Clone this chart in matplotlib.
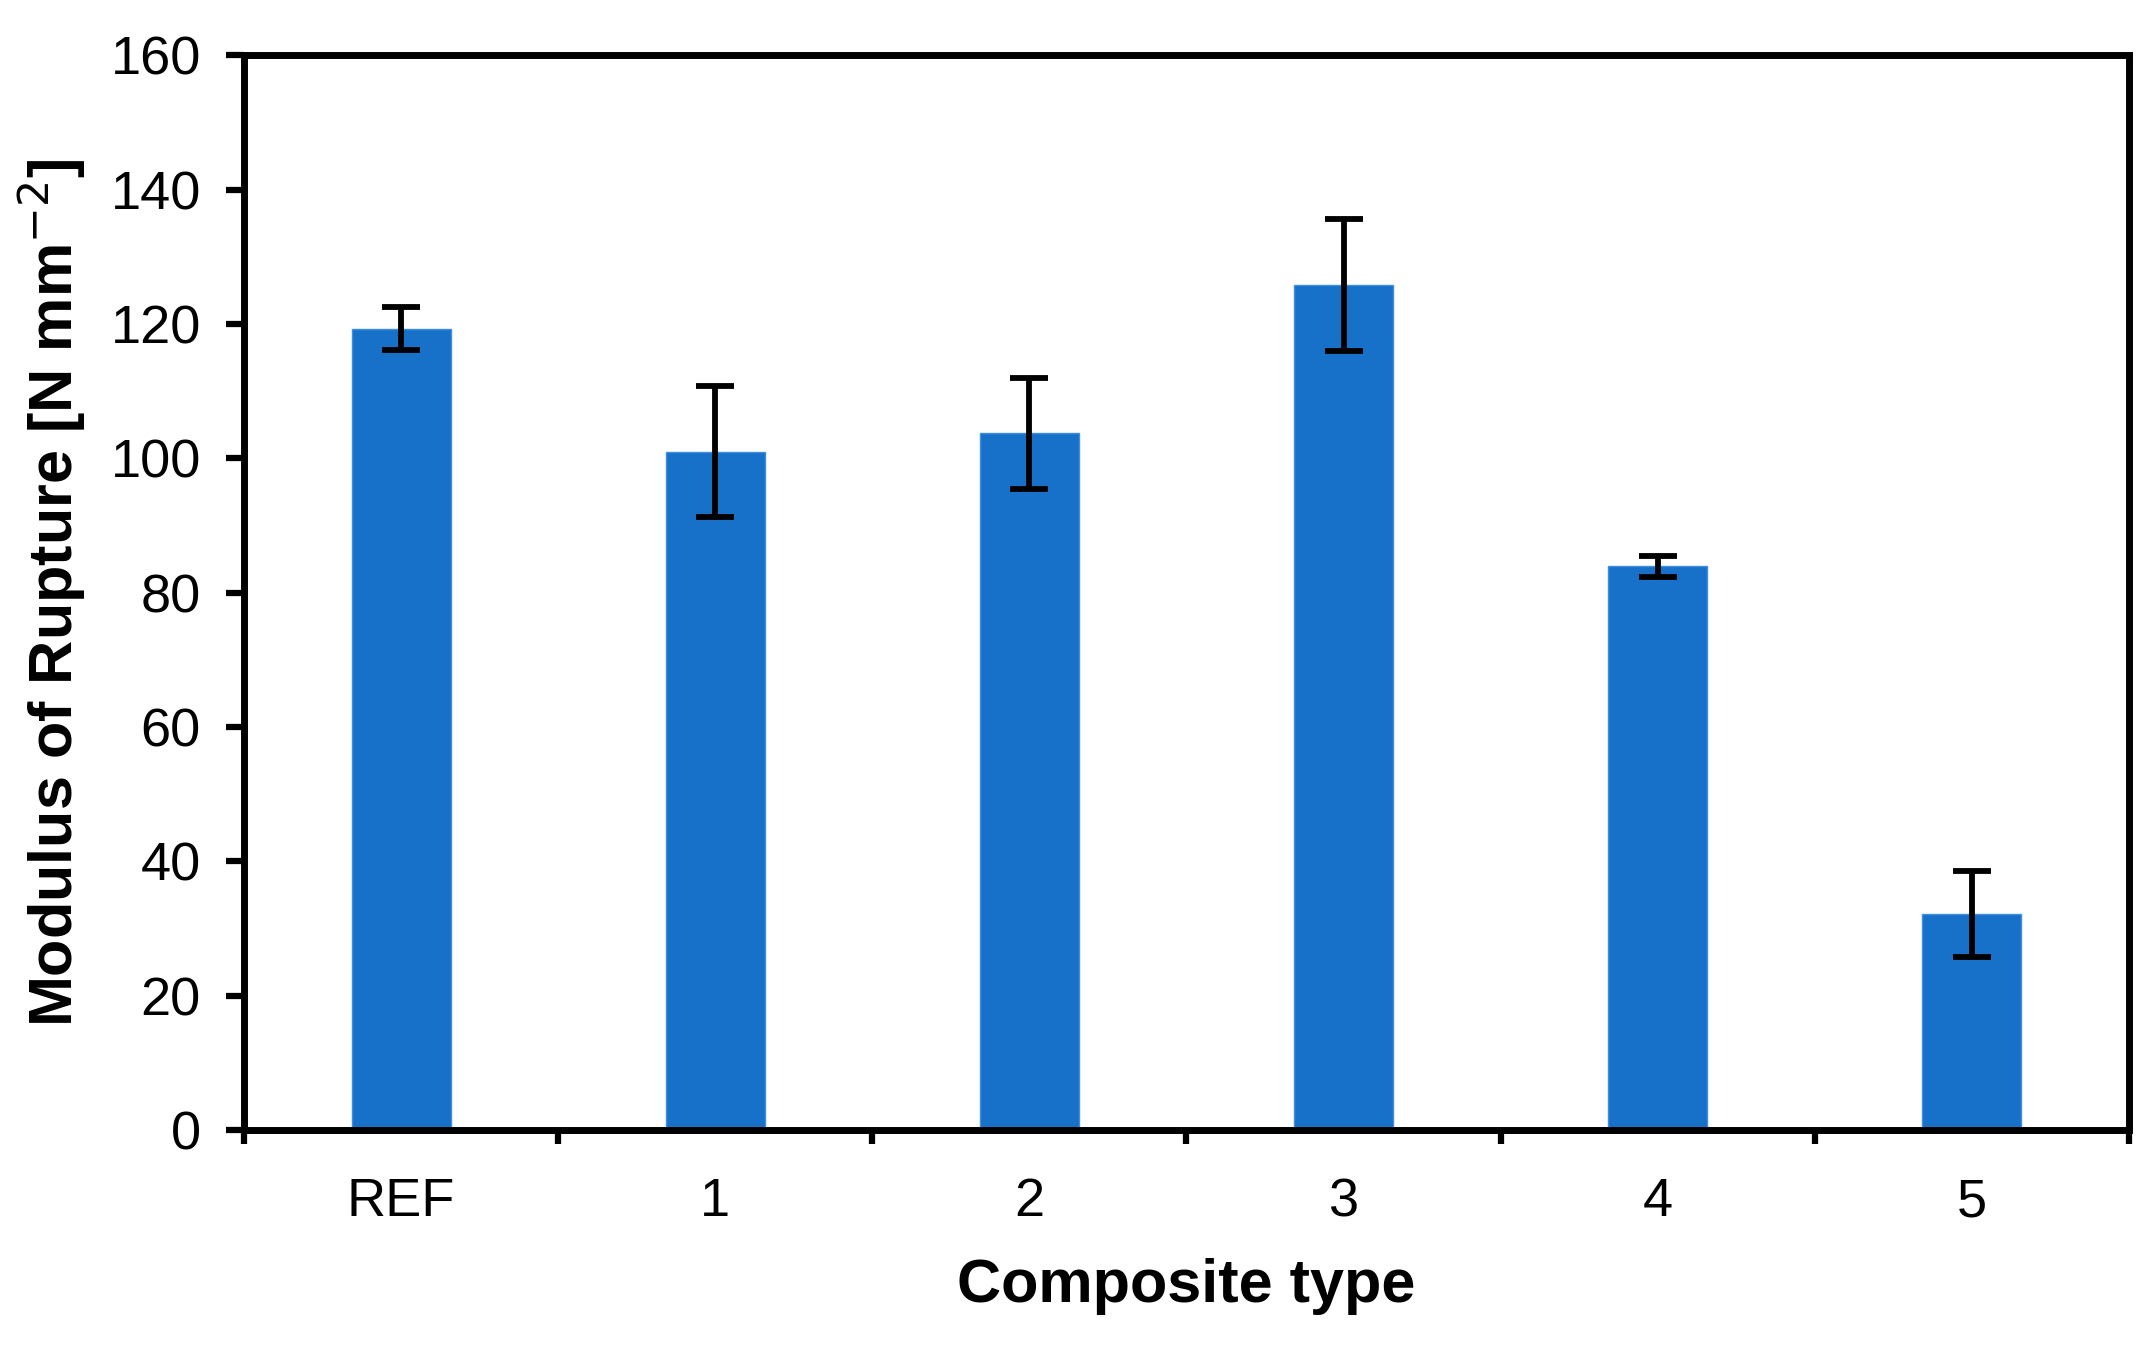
import matplotlib
matplotlib.use("Agg")
import matplotlib.pyplot as plt
import numpy as np

categories = ["REF", "1", "2", "3", "4", "5"]
values = [119.3, 101.0, 103.7, 125.8, 83.9, 32.1]
errors = [3.2, 9.7, 8.2, 9.8, 1.6, 6.4]
yticks = [0, 20, 40, 60, 80, 100, 120, 140, 160]

plt.rcParams['font.family'] = ['Liberation Sans', 'DejaVu Sans']

fig = plt.figure(figsize=(21.51, 13.5), dpi=100)
ax = fig.add_axes([0.1134, 0.163, 0.8764, 0.796])

x = np.arange(len(categories))
ax.bar(x, values, width=0.315, color="#1771C9", edgecolor="#3F8FE0", linewidth=1, zorder=2)
ax.errorbar(x, values, yerr=errors, fmt="none", ecolor="black", elinewidth=4.2,
            capsize=14, capthick=4.2, zorder=3)

ax.set_xlim(-0.5, len(categories) - 0.5)
ax.set_ylim(0, 160)
ax.set_yticks(yticks)
ax.set_yticklabels([str(t) for t in yticks], fontsize=39)

ax.set_xticks(np.arange(-0.5, len(categories), 1.0))
ax.set_xticklabels([])
ax.set_xticks(x, minor=True)
ax.set_xticklabels(categories, minor=True, fontsize=39)
ax.tick_params(axis="x", which="major", direction="out", length=10, width=4.5)
ax.tick_params(axis="x", which="minor", length=0, pad=34)
ax.tick_params(axis="y", direction="out", length=13, width=4.5, pad=18)

for s in ax.spines.values():
    s.set_linewidth(5)

ax.set_xlabel("Composite type", fontsize=44, fontweight="bold", labelpad=22)
ax.set_ylabel("Modulus of Rupture [N mm$^{-2}$]", fontsize=44, fontweight="bold", labelpad=16)

fig.savefig("out.png", dpi=100)
